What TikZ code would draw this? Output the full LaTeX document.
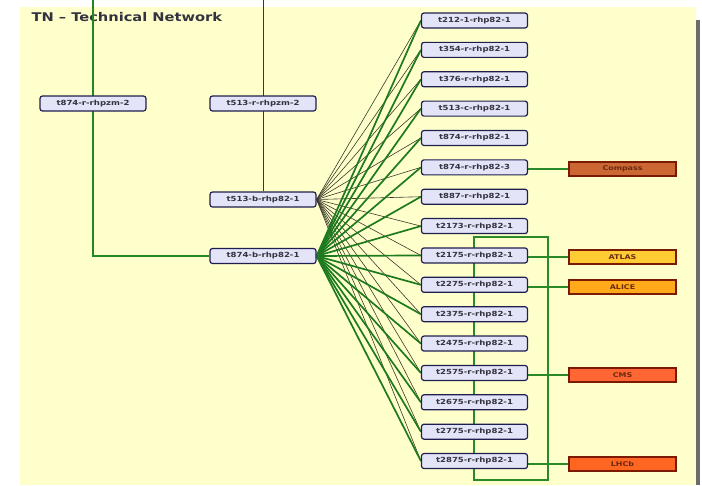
\documentclass[tikz,border=0pt]{standalone}
\usepackage{fontspec}
\setmainfont{DejaVu Sans}
\newfontfamily\nodefont[FakeStretch=1.22]{DejaVu Sans Bold}
\usetikzlibrary{backgrounds}
\pgfdeclarelayer{backdrop}
\pgfdeclarelayer{edges}
\pgfsetlayers{backdrop,edges,main}
\definecolor{bgyellow}{HTML}{FFFFCC}
\definecolor{nodefill}{HTML}{E4E4F8}
\definecolor{nodeline}{HTML}{1F1F4F}
\definecolor{txtdark}{HTML}{333340}
\definecolor{linkgreen}{HTML}{1E7A1E}
\definecolor{upgreen}{HTML}{228822}
\definecolor{ringgreen}{HTML}{2A8A2A}
\definecolor{linkblack}{HTML}{3A3A2A}
\definecolor{expline}{HTML}{7A1A00}
\definecolor{exptext}{HTML}{6A2A10}
\definecolor{compassfill}{HTML}{CC6633}
\definecolor{atlasfill}{HTML}{FFCC33}
\definecolor{alicefill}{HTML}{FFAA1A}
\definecolor{cmsfill}{HTML}{FF6633}
\definecolor{lhcbfill}{HTML}{FF6622}
\tikzset{
  netnode/.style={draw=nodeline, fill=nodefill, line width=1.2pt, rounded corners=2.5pt,
    minimum width=106pt, minimum height=15pt, inner sep=0pt,
    font=\nodefont\fontsize{7}{8}\selectfont, text=txtdark},
  expbox/.style={draw=expline, line width=1.1pt, minimum width=107pt, minimum height=14pt,
    inner sep=0pt, font=\nodefont\fontsize{6.5}{7}\selectfont, text=exptext},
  blacklink/.style={draw=linkblack, line width=0.6pt},
  greenlink/.style={draw=linkgreen, line width=1.7pt},
  uplink/.style={draw=upgreen, line width=2pt},
  ringlink/.style={draw=ringgreen, line width=1.3pt},
}
\begin{document}
\begin{tikzpicture}[x=1pt,y=-1pt]
\useasboundingbox (0,0) rectangle (702,485);
\begin{pgfonlayer}{backdrop}
  \fill[bgyellow] (20,7) rectangle (696,485);
  \fill[gray!85!black] (696,20) rectangle (700,485);
  \node[anchor=base west, font=\nodefont\fontsize{12}{14}\selectfont, text=txtdark] (title) at (28,21) {TN – Technical Network};
\end{pgfonlayer}

% left column
\node[netnode] (t874rz) at (93,103.5) {t874-r-rhpzm-2};
\node[netnode] (t513rz) at (263,103.5) {t513-r-rhpzm-2};
\node[netnode] (t513b) at (263,199.5) {t513-b-rhp82-1};
\node[netnode] (t874b) at (263,256) {t874-b-rhp82-1};

% right column
\foreach \name/\lab [count=\i from 0] in {
  r0/t212-1-rhp82-1, r1/t354-r-rhp82-1, r2/t376-r-rhp82-1, r3/t513-c-rhp82-1,
  r4/t874-r-rhp82-1, r5/t874-r-rhp82-3, r6/t887-r-rhp82-1, r7/t2173-r-rhp82-1,
  r8/t2175-r-rhp82-1, r9/t2275-r-rhp82-1, r10/t2375-r-rhp82-1, r11/t2475-r-rhp82-1,
  r12/t2575-r-rhp82-1, r13/t2675-r-rhp82-1, r14/t2775-r-rhp82-1, r15/t2875-r-rhp82-1}
  \node[netnode] (\name) at (474.5,20.5+29.37*\i) {\lab};

% experiments
\node[expbox, fill=compassfill] (compass) at (622.5,169) {Compass};
\node[expbox, fill=atlasfill] (atlas) at (622.5,257) {ATLAS};
\node[expbox, fill=alicefill] (alice) at (622.5,287) {ALICE};
\node[expbox, fill=cmsfill] (cms) at (622.5,375) {CMS};
\node[expbox, fill=lhcbfill] (lhcb) at (622.5,464) {LHCb};

\coordinate (topgreen) at (93,-2);
\coordinate (cornergreen) at (93,256);
\coordinate (topblack) at (263,-2);
\coordinate (ringTL) at (474,237);
\coordinate (ringBR) at (548,480);

\begin{pgfonlayer}{edges}
  \draw[blacklink, line width=0.8pt] (topblack) -- (t513b.north);
  \draw[ringlink] (ringTL) rectangle (ringBR);
  \foreach \n in {r0,r1,r2,r3,r4,r5,r6,r7,r8,r9,r10,r11,r12,r13,r14,r15}
    \draw[blacklink] (t513b.east) -- (\n.west);
  \foreach \n in {r0,r1,r2,r3,r4,r5,r6,r7,r8,r9,r10,r11,r12,r13,r14,r15}
    \draw[greenlink] (t874b.east) -- (\n.west);
  \draw[uplink] (topgreen) -- (cornergreen) -- (t874b.west);
  \draw[ringlink] (compass.west) -- (compass.west -| r5.east);
  \draw[ringlink] (atlas.west) -- (atlas.west -| r8.east);
  \draw[ringlink] (alice.west) -- (alice.west -| r9.east);
  \draw[ringlink] (cms.west) -- (cms.west -| r12.east);
  \draw[ringlink] (lhcb.west) -- (lhcb.west -| r15.east);
\end{pgfonlayer}
\end{tikzpicture}
\end{document}
